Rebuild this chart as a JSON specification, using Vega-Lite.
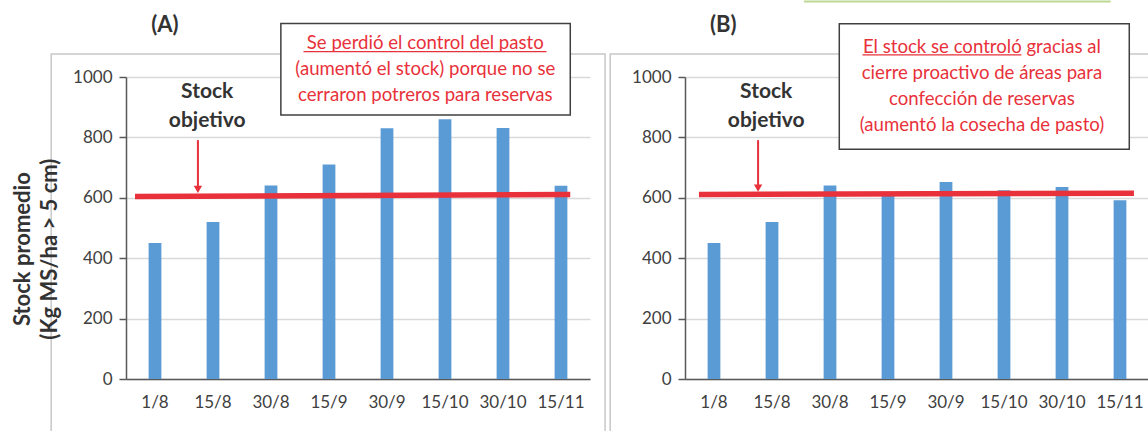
{
  "$schema": "https://vega.github.io/schema/vega-lite/v6.json",
  "background": "white",
  "padding": {"left": 11, "top": 0, "right": 0, "bottom": 0},
  "bounds": "flush",
  "spacing": 95,
  "config": {
    "view": {"stroke": null},
    "font": "Lato",
    "axisY": {"grid": true, "gridColor": "#d9d9d9", "gridWidth": 1.5, "domainColor": "#595959", "domainWidth": 1.5, "tickColor": "#595959", "tickSize": 7, "tickWidth": 1.5, "labelFont": "Lato", "labelFontSize": 17, "labelColor": "#404040", "labelPadding": 7, "format": "d"},
    "axisX": {"labelAngle": 0, "ticks": false, "grid": false, "domainColor": "#595959", "domainWidth": 1.5, "labelFont": "Lato", "labelFontSize": 17, "labelColor": "#404040", "labelPadding": 15}
  },
  "datasets": {
    "barsA": [{"fecha": "1/8", "stock": 450}, {"fecha": "15/8", "stock": 520}, {"fecha": "30/8", "stock": 641}, {"fecha": "15/9", "stock": 710}, {"fecha": "30/9", "stock": 830}, {"fecha": "15/10", "stock": 860}, {"fecha": "30/10", "stock": 831}, {"fecha": "15/11", "stock": 640}],
    "barsB": [{"fecha": "1/8", "stock": 450}, {"fecha": "15/8", "stock": 520}, {"fecha": "30/8", "stock": 641}, {"fecha": "15/9", "stock": 610}, {"fecha": "30/9", "stock": 652}, {"fecha": "15/10", "stock": 625}, {"fecha": "30/10", "stock": 636}, {"fecha": "15/11", "stock": 592}],
    "frameA": [{"u": -1.29, "u2": 8.26, "v": 1076, "v2": -207}],
    "frameB": [{"u": -1.29, "u2": 8.84, "v": 1076, "v2": -207}],
    "targetA": [{"u": 0.155, "v": 604, "u2": 7.66, "v2": 611}],
    "targetB": [{"u": 0.24, "v": 611, "u2": 7.74, "v2": 615}],
    "arrowA": [{"u": 1.24, "v": 791, "v2": 632, "tip": 628}],
    "arrowB": [{"u": 1.26, "v": 791, "v2": 636, "tip": 632}],
    "labelA": [{"u": 1.4, "v": 950, "texto": "Stock\nobjetivo"}],
    "labelB": [{"u": 1.4, "v": 950, "texto": "Stock\nobjetivo"}],
    "boxA": [{"u": 2.67, "u2": 7.66, "v": 1177, "v2": 874}],
    "boxB": [{"u": 2.66, "u2": 7.66, "v": 1176, "v2": 761}],
    "noteA": [{"u": 5.16, "v": 1112, "texto": "Se perdió el control del pasto\n(aumentó el stock) porque no se\ncerraron potreros para reservas"}],
    "noteB": [{"u": 5.12, "v": 1098, "texto": "El stock se controló gracias al\ncierre proactivo de áreas para\nconfección de reservas\n(aumentó la cosecha de pasto)"}],
    "underA": [{"u": 3.06, "u2": 7.25, "v": 1084}],
    "underB": [{"u": 3.06, "u2": 5.8, "v": 1073}],
    "titleA": [{"u": 0.67, "v": 1172, "texto": "(A)"}],
    "titleB": [{"u": 0.66, "v": 1172, "texto": "(B)"}],
    "ytitle": [{"u": -1.78, "v": 430, "texto": "Stock promedio\n(Kg MS/ha > 5 cm)"}],
    "green": [{"u": 2.05, "u2": 7.34, "v": 1250}]
  },
  "hconcat": [
    {
      "width": 464,
      "height": 302,
      "resolve": {"scale": {"x": "independent"}},
      "layer": [
        {"data": {"name": "frameA"}, "mark": {"type": "rect", "filled": false, "stroke": "#c8c8c8", "strokeWidth": 1.5},
         "encoding": {"x": {"field": "u", "type": "quantitative", "scale": {"domain": [0, 8], "nice": false, "zero": false}, "axis": null}, "x2": {"field": "u2"}, "y": {"field": "v", "type": "quantitative", "scale": {"domain": [0, 1000], "nice": false}, "title": null}, "y2": {"field": "v2"}}},
        {"data": {"name": "barsA"}, "mark": {"type": "bar", "color": "#5b9bd5"},
         "encoding": {"x": {"field": "fecha", "type": "nominal", "sort": null, "title": null, "scale": {"paddingInner": 0.78, "paddingOuter": 0.39}}, "y": {"field": "stock", "type": "quantitative", "scale": {"domain": [0, 1000], "nice": false}, "title": null, "axis": {"values": [0, 200, 400, 600, 800, 1000], "format": "d"}}}},
        {"data": {"name": "targetA"}, "mark": {"type": "rule", "color": "#e8313a", "strokeWidth": 5.5},
         "encoding": {"x": {"field": "u", "type": "quantitative", "scale": {"domain": [0, 8], "nice": false, "zero": false}, "axis": null}, "x2": {"field": "u2"}, "y": {"field": "v", "type": "quantitative", "scale": {"domain": [0, 1000], "nice": false}, "title": null}, "y2": {"field": "v2"}}},
        {"data": {"name": "arrowA"}, "mark": {"type": "rule", "color": "#e8313a", "strokeWidth": 2},
         "encoding": {"x": {"field": "u", "type": "quantitative", "scale": {"domain": [0, 8], "nice": false, "zero": false}, "axis": null}, "y": {"field": "v", "type": "quantitative", "scale": {"domain": [0, 1000], "nice": false}, "title": null}, "y2": {"field": "v2"}}},
        {"data": {"name": "arrowA"}, "mark": {"type": "point", "shape": "triangle-down", "filled": true, "color": "#e8313a", "size": 70, "opacity": 1},
         "encoding": {"x": {"field": "u", "type": "quantitative", "scale": {"domain": [0, 8], "nice": false, "zero": false}, "axis": null}, "y": {"field": "tip", "type": "quantitative", "scale": {"domain": [0, 1000], "nice": false}, "title": null}}},
        {"data": {"name": "labelA"}, "mark": {"type": "text", "font": "Lato", "fontSize": 21, "fontWeight": "bold", "color": "#333333", "lineBreak": "\n", "lineHeight": 29, "baseline": "middle", "align": "center"},
         "encoding": {"x": {"field": "u", "type": "quantitative", "scale": {"domain": [0, 8], "nice": false, "zero": false}, "axis": null}, "y": {"field": "v", "type": "quantitative", "scale": {"domain": [0, 1000], "nice": false}, "title": null}, "text": {"field": "texto"}}},
        {"data": {"name": "boxA"}, "mark": {"type": "rect", "fill": "white", "stroke": "#404040", "strokeWidth": 1.5},
         "encoding": {"x": {"field": "u", "type": "quantitative", "scale": {"domain": [0, 8], "nice": false, "zero": false}, "axis": null}, "x2": {"field": "u2"}, "y": {"field": "v", "type": "quantitative", "scale": {"domain": [0, 1000], "nice": false}, "title": null}, "y2": {"field": "v2"}}},
        {"data": {"name": "noteA"}, "mark": {"type": "text", "font": "Lato", "fontSize": 18.6, "color": "#e8313a", "lineBreak": "\n", "lineHeight": 26, "baseline": "middle", "align": "center"},
         "encoding": {"x": {"field": "u", "type": "quantitative", "scale": {"domain": [0, 8], "nice": false, "zero": false}, "axis": null}, "y": {"field": "v", "type": "quantitative", "scale": {"domain": [0, 1000], "nice": false}, "title": null}, "text": {"field": "texto"}}},
        {"data": {"name": "underA"}, "mark": {"type": "rule", "color": "#e8313a", "strokeWidth": 1.2},
         "encoding": {"x": {"field": "u", "type": "quantitative", "scale": {"domain": [0, 8], "nice": false, "zero": false}, "axis": null}, "x2": {"field": "u2"}, "y": {"field": "v", "type": "quantitative", "scale": {"domain": [0, 1000], "nice": false}, "title": null}}},
        {"data": {"name": "titleA"}, "mark": {"type": "text", "font": "Lato", "fontSize": 22, "fontWeight": "bold", "color": "#333333", "baseline": "middle", "align": "center"},
         "encoding": {"x": {"field": "u", "type": "quantitative", "scale": {"domain": [0, 8], "nice": false, "zero": false}, "axis": null}, "y": {"field": "v", "type": "quantitative", "scale": {"domain": [0, 1000], "nice": false}, "title": null}, "text": {"field": "texto"}}},
        {"data": {"name": "ytitle"}, "mark": {"type": "text", "font": "Lato", "fontSize": 22, "fontWeight": "bold", "color": "#333333", "angle": 270, "lineBreak": "\n", "lineHeight": 27, "baseline": "middle", "align": "center"},
         "encoding": {"x": {"field": "u", "type": "quantitative", "scale": {"domain": [0, 8], "nice": false, "zero": false}, "axis": null}, "y": {"field": "v", "type": "quantitative", "scale": {"domain": [0, 1000], "nice": false}, "title": null}, "text": {"field": "texto"}}}
      ]
    },
    {
      "width": 464,
      "height": 302,
      "resolve": {"scale": {"x": "independent"}},
      "layer": [
        {"data": {"name": "frameB"}, "mark": {"type": "rect", "filled": false, "stroke": "#c8c8c8", "strokeWidth": 1.5},
         "encoding": {"x": {"field": "u", "type": "quantitative", "scale": {"domain": [0, 8], "nice": false, "zero": false}, "axis": null}, "x2": {"field": "u2"}, "y": {"field": "v", "type": "quantitative", "scale": {"domain": [0, 1000], "nice": false}, "title": null}, "y2": {"field": "v2"}}},
        {"data": {"name": "green"}, "mark": {"type": "rule", "color": "#bcd892", "strokeWidth": 2},
         "encoding": {"x": {"field": "u", "type": "quantitative", "scale": {"domain": [0, 8], "nice": false, "zero": false}, "axis": null}, "x2": {"field": "u2"}, "y": {"field": "v", "type": "quantitative", "scale": {"domain": [0, 1000], "nice": false}, "title": null}}},
        {"data": {"name": "barsB"}, "mark": {"type": "bar", "color": "#5b9bd5"},
         "encoding": {"x": {"field": "fecha", "type": "nominal", "sort": null, "title": null, "scale": {"paddingInner": 0.78, "paddingOuter": 0.39}}, "y": {"field": "stock", "type": "quantitative", "scale": {"domain": [0, 1000], "nice": false}, "title": null, "axis": {"values": [0, 200, 400, 600, 800, 1000], "format": "d"}}}},
        {"data": {"name": "targetB"}, "mark": {"type": "rule", "color": "#e8313a", "strokeWidth": 5.5},
         "encoding": {"x": {"field": "u", "type": "quantitative", "scale": {"domain": [0, 8], "nice": false, "zero": false}, "axis": null}, "x2": {"field": "u2"}, "y": {"field": "v", "type": "quantitative", "scale": {"domain": [0, 1000], "nice": false}, "title": null}, "y2": {"field": "v2"}}},
        {"data": {"name": "arrowB"}, "mark": {"type": "rule", "color": "#e8313a", "strokeWidth": 2},
         "encoding": {"x": {"field": "u", "type": "quantitative", "scale": {"domain": [0, 8], "nice": false, "zero": false}, "axis": null}, "y": {"field": "v", "type": "quantitative", "scale": {"domain": [0, 1000], "nice": false}, "title": null}, "y2": {"field": "v2"}}},
        {"data": {"name": "arrowB"}, "mark": {"type": "point", "shape": "triangle-down", "filled": true, "color": "#e8313a", "size": 70, "opacity": 1},
         "encoding": {"x": {"field": "u", "type": "quantitative", "scale": {"domain": [0, 8], "nice": false, "zero": false}, "axis": null}, "y": {"field": "tip", "type": "quantitative", "scale": {"domain": [0, 1000], "nice": false}, "title": null}}},
        {"data": {"name": "labelB"}, "mark": {"type": "text", "font": "Lato", "fontSize": 21, "fontWeight": "bold", "color": "#333333", "lineBreak": "\n", "lineHeight": 29, "baseline": "middle", "align": "center"},
         "encoding": {"x": {"field": "u", "type": "quantitative", "scale": {"domain": [0, 8], "nice": false, "zero": false}, "axis": null}, "y": {"field": "v", "type": "quantitative", "scale": {"domain": [0, 1000], "nice": false}, "title": null}, "text": {"field": "texto"}}},
        {"data": {"name": "boxB"}, "mark": {"type": "rect", "fill": "white", "stroke": "#404040", "strokeWidth": 1.5},
         "encoding": {"x": {"field": "u", "type": "quantitative", "scale": {"domain": [0, 8], "nice": false, "zero": false}, "axis": null}, "x2": {"field": "u2"}, "y": {"field": "v", "type": "quantitative", "scale": {"domain": [0, 1000], "nice": false}, "title": null}, "y2": {"field": "v2"}}},
        {"data": {"name": "noteB"}, "mark": {"type": "text", "font": "Lato", "fontSize": 18.6, "color": "#e8313a", "lineBreak": "\n", "lineHeight": 26, "baseline": "middle", "align": "center"},
         "encoding": {"x": {"field": "u", "type": "quantitative", "scale": {"domain": [0, 8], "nice": false, "zero": false}, "axis": null}, "y": {"field": "v", "type": "quantitative", "scale": {"domain": [0, 1000], "nice": false}, "title": null}, "text": {"field": "texto"}}},
        {"data": {"name": "underB"}, "mark": {"type": "rule", "color": "#e8313a", "strokeWidth": 1.2},
         "encoding": {"x": {"field": "u", "type": "quantitative", "scale": {"domain": [0, 8], "nice": false, "zero": false}, "axis": null}, "x2": {"field": "u2"}, "y": {"field": "v", "type": "quantitative", "scale": {"domain": [0, 1000], "nice": false}, "title": null}}},
        {"data": {"name": "titleB"}, "mark": {"type": "text", "font": "Lato", "fontSize": 22, "fontWeight": "bold", "color": "#333333", "baseline": "middle", "align": "center"},
         "encoding": {"x": {"field": "u", "type": "quantitative", "scale": {"domain": [0, 8], "nice": false, "zero": false}, "axis": null}, "y": {"field": "v", "type": "quantitative", "scale": {"domain": [0, 1000], "nice": false}, "title": null}, "text": {"field": "texto"}}}
      ]
    }
  ]
}
